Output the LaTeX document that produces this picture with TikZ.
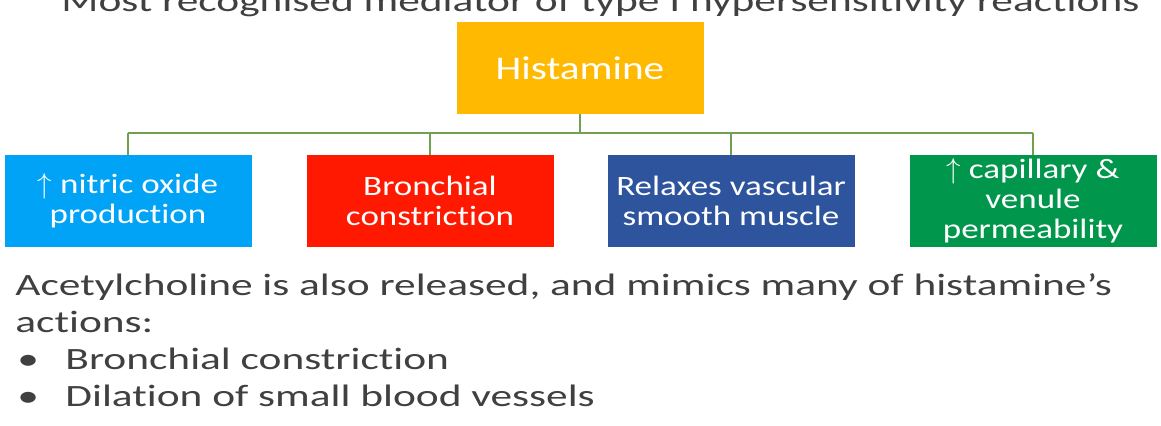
\documentclass[tikz,border=0pt]{standalone}
\usepackage{fontspec}
\setmainfont{Carlito}
\newfontfamily\boxfont[FakeStretch=1.25,Ligatures=NoCommon]{Carlito}
\newfontfamily\slidefont[FakeStretch=1.4,Ligatures=NoCommon]{Carlito}
\definecolor{historange}{RGB}{255,185,0}
\definecolor{nitricblue}{RGB}{0,163,245}
\definecolor{bronchred}{RGB}{255,25,0}
\definecolor{relaxblue}{RGB}{46,84,158}
\definecolor{permgreen}{RGB}{0,150,75}
\definecolor{linkgreen}{RGB}{112,160,80}
\tikzset{
  effect/.style={minimum width=123.5pt,minimum height=46pt,inner sep=0pt,
    align=center,text=white,font=\boxfont\fontsize{14}{15}\selectfont},
  link/.style={draw=linkgreen,line width=.75pt},
  slidetext/.style={anchor=base west,inner sep=0pt,text=black!75,
    font=\slidefont\fontsize{15.5}{18}\selectfont}
}
\begin{document}
\begin{tikzpicture}[x=0.5pt,y=-0.5pt]
 \useasboundingbox (0,0) rectangle (1161,426);
 % title line, cut by the top edge
 \node[slidetext] (title) at (61,12) {Most recognised mediator of type I hypersensitivity reactions};
 % the tree
 \node[effect,fill=historange,font=\boxfont\fontsize{16.5}{18}\selectfont] (hist) at (580,68) {Histamine};
 \node[effect,fill=nitricblue] (nitric) at (128,201) {$\uparrow$ nitric oxide\\production};
 \node[effect,fill=bronchred] (bronch) at (430,201) {Bronchial\\constriction};
 \node[effect,fill=relaxblue] (relax) at (731,201) {Relaxes vascular\\smooth muscle};
 \node[effect,fill=permgreen] (perm) at (1033,201) {$\uparrow$ capillary \&\\venule\\permeability};
 \coordinate (bar) at (580,133);
 \draw[link] (hist.south) -- (bar);
 \draw[link] (bar -| nitric.north) -- (bar -| perm.north);
 \foreach \n in {nitric,bronch,relax,perm}
  \draw[link] (bar -| \n.north) -- (\n.north);
 % text under the tree
 \node[slidetext] (acetyl) at (15,296) {Acetylcholine is also released, and mimics many of histamine’s};
 \node[slidetext] (actions) at (15,333) {actions:};
 \node[slidetext] (dotone) at (17,370) {•};
 \node[slidetext] (itemone) at (65,370) {Bronchial constriction};
 \node[slidetext] (dottwo) at (17,407) {•};
 \node[slidetext] (itemtwo) at (65,407) {Dilation of small blood vessels};
\end{tikzpicture}
\end{document}
